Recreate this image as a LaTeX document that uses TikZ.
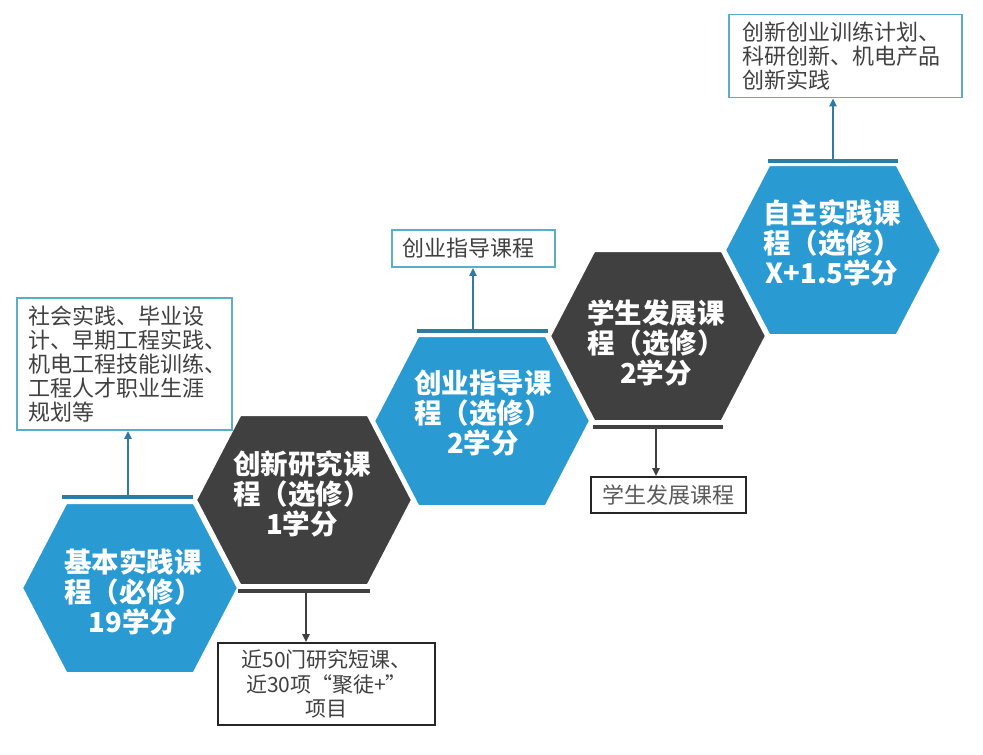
\documentclass[tikz,border=0pt]{standalone}
\usepackage{fontspec}
\setmainfont{Noto Sans CJK SC}
\usetikzlibrary{arrows.meta}
\definecolor{hexblue}{HTML}{2A9AD2}
\definecolor{hexdark}{HTML}{404040}
\definecolor{lineblue}{HTML}{2E7BA3}
\definecolor{boxblue}{HTML}{5AAEC6}
\definecolor{txtgray}{HTML}{404040}
\definecolor{lightgray}{HTML}{5A5A5A}
\tikzset{
  hexshape/.style={fill=#1, draw=white, line width=3pt, line join=miter},
  hextext/.style={text=white, font=\bfseries\fontsize{27.5}{30}\selectfont, align=center, inner sep=0pt},
  bluebar/.style={draw=lineblue, line width=3.5pt},
  darkbar/.style={draw=hexdark, line width=3.5pt},
  uparrow/.style={draw=lineblue, line width=2pt, -{Triangle[length=8pt,width=7pt]}},
  downarrow/.style={draw=hexdark, line width=2pt, -{Triangle[length=8pt,width=7pt]}},
  bluebox/.style={draw=boxblue, line width=1.6pt, text=txtgray, font=\fontsize{22}{24.2}\selectfont, align=left, inner ysep=0pt},
  blackbox/.style={draw=black!85, line width=1.6pt, text=txtgray, font=\fontsize{21}{24.5}\selectfont, align=center, inner ysep=0pt}
}
\newcommand\hexat[3]{%
  \fill[hexshape=#3, shift={(#1,#2)}] (-108.5,0) -- (-64,-85.5) -- (64,-85.5) -- (108.5,0) -- (64,85.5) -- (-64,85.5) -- cycle;}
\begin{document}
\begin{tikzpicture}[x=1pt,y=-1pt]
\useasboundingbox[fill=white] (0,0) rectangle (983,755);
% hexagons
\hexat{130}{588}{hexblue}
\hexat{304}{500}{hexdark}
\hexat{482}{421}{hexblue}
\hexat{658}{336}{hexdark}
\hexat{833}{250}{hexblue}
\node[hextext] (h1) at (133,592) {基本实践课\\程（必修）\\19学分};
\node[hextext] (h2) at (302,494) {创新研究课\\程（选修）\\1学分};
\node[hextext] (h3) at (483,413) {创业指导课\\程（选修）\\2学分};
\node[hextext] (h4) at (656,343) {学生发展课\\程（选修）\\2学分};
\node[hextext] (h5) at (832,243) {自主实践课\\程（选修）\\X+1.5学分};
% boxes
\node[bluebox, minimum width=215pt, minimum height=132pt, text width=193pt, inner xsep=11pt] (bA) at (124.5,364)
  {社会实践、毕业设\\计、早期工程实践、\\机电工程技能训练、\\工程人才职业生涯\\规划等};
\node[blackbox, minimum width=217pt, minimum height=82pt] (bB) at (326.5,684)
  {近50门研究短课、\\近30项“聚徒+”\\项目};
\node[bluebox, minimum width=163pt, minimum height=37pt, text width=143pt, inner xsep=10pt] (bC) at (473.5,248.5)
  {创业指导课程};
\node[blackbox, minimum width=155pt, minimum height=36pt, text=lightgray, font=\fontsize{22}{24}\selectfont] (bD) at (668.5,495)
  {学生发展课程};
\node[bluebox, minimum width=233pt, minimum height=83pt, text width=207pt, inner xsep=13pt] (bE) at (845.5,56)
  {创新创业训练计划、\\科研创新、机电产品\\创新实践};
% bars
\coordinate (l1a) at (62,497);  \coordinate (l1b) at (193,497);  \coordinate (a1) at (128,497);
\coordinate (l2a) at (238,591); \coordinate (l2b) at (370,591);  \coordinate (a2) at (306,591);
\coordinate (l3a) at (417,331); \coordinate (l3b) at (548,331);  \coordinate (a3) at (473,331);
\coordinate (l4a) at (593,427); \coordinate (l4b) at (723,427);  \coordinate (a4) at (656,427);
\coordinate (l5a) at (768,161); \coordinate (l5b) at (898,161);  \coordinate (a5) at (833,161);
\draw[bluebar] (l1a) -- (l1b);
\draw[darkbar] (l2a) -- (l2b);
\draw[bluebar] (l3a) -- (l3b);
\draw[darkbar] (l4a) -- (l4b);
\draw[bluebar] (l5a) -- (l5b);
% arrows
\draw[uparrow] (a1) -- (a1 |- bA.south);
\draw[downarrow] (a2) -- (a2 |- bB.north);
\draw[uparrow] (a3) -- (a3 |- bC.south);
\draw[downarrow] (a4) -- (a4 |- bD.north);
\draw[uparrow] (a5) -- (a5 |- bE.south);
\end{tikzpicture}
\end{document}
